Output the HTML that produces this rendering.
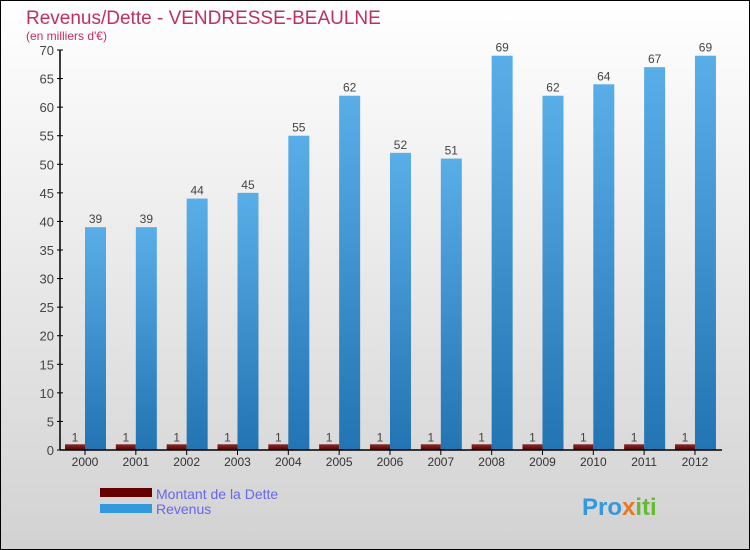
<!DOCTYPE html>
<html><head><meta charset="utf-8"><style>
body{margin:0;}
#wrap{width:748px;height:548px;border:1px solid #000;background:linear-gradient(#ffffff,#d2d2d2);position:relative;overflow:hidden;font-family:"Liberation Sans",sans-serif;}
svg{position:absolute;left:-1px;top:-1px;}
</style></head><body>
<div id="wrap">
<svg id="chart" width="750" height="550">
<defs>
<linearGradient id="rev" x1="0" y1="0" x2="0" y2="1"><stop offset="0" stop-color="#5aaee8"/><stop offset="1" stop-color="#2274b2"/></linearGradient>
<linearGradient id="debt" x1="0" y1="0" x2="0" y2="1"><stop offset="0" stop-color="#8a2a2a"/><stop offset="1" stop-color="#5a0000"/></linearGradient>
</defs>
<text x="26" y="24" font-size="19" fill="#c0305e">Revenus/Dette - VENDRESSE-BEAULNE</text>
<text x="26" y="40" font-size="12" fill="#c0305e">(en milliers d'€)</text>
<g id="plot"></g>
<rect x="100" y="488" width="52" height="9" fill="#660000"/>
<text x="156" y="499" font-size="14" fill="#6666ee">Montant de la Dette</text>
<rect x="100" y="504" width="52" height="9" fill="#3399dd"/>
<text x="156" y="514" font-size="14" fill="#6666ee">Revenus</text>
<text x="582" y="515" font-size="24" font-weight="bold" fill="#3399dd">Pro<tspan fill="#e87722">x</tspan><tspan fill="#66bb33">iti</tspan></text>
</svg>
</div>
<script>
const years=["2000","2001","2002","2003","2004","2005","2006","2007","2008","2009","2010","2011","2012"];
const revenus=[39,39,44,45,55,62,52,51,69,62,64,67,69];
const dette=[1,1,1,1,1,1,1,1,1,1,1,1,1];
const yTicks=[0,5,10,15,20,25,30,35,40,45,50,55,60,65,70];
const NS="http://www.w3.org/2000/svg";
const g=document.getElementById('plot');
const y=v=>450-v*400/70;
const x=i=>85+i*50.83;
function mk(t,a){const e=document.createElementNS(NS,t);for(const k in a)e.setAttribute(k,a[k]);g.appendChild(e);return e;}
yTicks.forEach(v=>{
 const l=mk('line',{x1:57,x2:63,y1:y(v),y2:y(v),stroke:'#000'});
 
 
 const t=mk('text',{x:54,y:y(v)+5,'font-size':13,fill:'#444','text-anchor':'end'});t.textContent=v;
 
 
});
years.forEach((yr,i)=>{
 const d=mk('rect',{x:x(i)-20,y:y(dette[i]),width:20,height:450-y(dette[i]),fill:'url(#debt)'});
 
 
 const r=mk('rect',{x:x(i),y:y(revenus[i]),width:21,height:450-y(revenus[i]),fill:'url(#rev)'});
 
 
 const dl=mk('text',{x:x(i)-10,y:y(dette[i])-3,'font-size':12,fill:'#444','text-anchor':'middle'});dl.textContent=dette[i];
 
 
 const rl=mk('text',{x:x(i)+10.5,y:y(revenus[i])-4,'font-size':12,fill:'#444','text-anchor':'middle'});rl.textContent=revenus[i];
 
 
 const tk=mk('line',{x1:x(i),x2:x(i),y1:450,y2:455,stroke:'#000'});
 
 
 const xl=mk('text',{x:x(i),y:466,'font-size':12,fill:'#333','text-anchor':'middle'});xl.textContent=yr;
 
 
});
const ya=mk('line',{x1:60,x2:60,y1:50,y2:450,stroke:'#000','stroke-width':1.5});


const xa=mk('line',{x1:60,x2:722,y1:450,y2:450,stroke:'#000','stroke-width':1.5});


</script>
</body></html>
